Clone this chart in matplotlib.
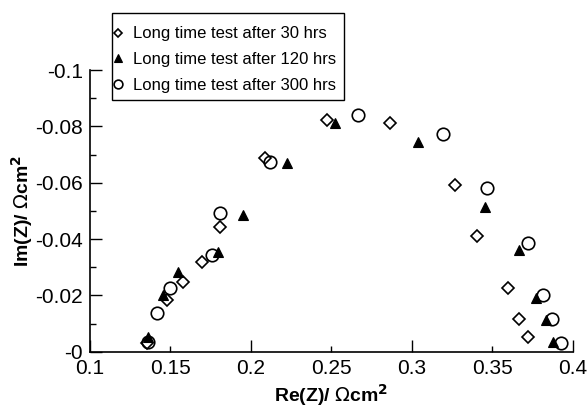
import numpy as np
import matplotlib as mpl
mpl.use('Agg')
import matplotlib.pyplot as plt
from matplotlib.ticker import MultipleLocator, FixedLocator
from matplotlib.patches import Rectangle

plt.rcParams['font.family'] = ['Liberation Sans', 'DejaVu Sans']

# Nyquist data: Re(Z), Im(Z) in ohm cm2
re_30 = [0.1354, 0.1478, 0.1578, 0.1696, 0.1807, 0.2087, 0.2472, 0.2863,
         0.3267, 0.3404, 0.3596, 0.3665, 0.3720]
im_30 = [-0.0032, -0.0184, -0.0248, -0.0319, -0.0442, -0.0687, -0.0821, -0.0811,
         -0.0591, -0.0411, -0.0227, -0.0117, -0.0053]

re_120 = [0.1360, 0.1453, 0.1547, 0.1795, 0.1950, 0.2224, 0.2522, 0.3037,
          0.3453, 0.3665, 0.3770, 0.3832, 0.3876]
im_120 = [-0.0053, -0.0202, -0.0283, -0.0354, -0.0485, -0.0669, -0.0811, -0.0743,
          -0.0513, -0.0361, -0.0191, -0.0113, -0.0035]

re_300 = [0.1360, 0.1416, 0.1497, 0.1758, 0.1807, 0.2118, 0.2668, 0.3193,
          0.3466, 0.3720, 0.3814, 0.3870, 0.3925]
im_300 = [-0.0035, -0.0138, -0.0227, -0.0343, -0.0492, -0.0673, -0.0842, -0.0772,
          -0.0581, -0.0386, -0.0202, -0.0117, -0.0032]

labels = ['Long time test after 30 hrs', 'Long time test after 120 hrs',
          'Long time test after 300 hrs']

ytick_vals = [0, -0.02, -0.04, -0.06, -0.08, -0.1]
ytick_labels = ['-0', '-0.02', '-0.04', '-0.06', '-0.08', '-0.1']

fig = plt.figure(figsize=(5.87, 4.12), dpi=100)
ax = fig.add_axes([0.153, 0.146, 0.823, 0.684])

ax.plot(re_30, im_30, 'D', ms=6.5, mfc='white', mec='black', mew=1.2,
        linestyle='none', label=labels[0])
ax.plot(re_120, im_120, '^', ms=7.5, mfc='black', mec='black', mew=0.8,
        linestyle='none', label=labels[1])
ax.plot(re_300, im_300, 'o', ms=9, mfc='none', mec='black', mew=1.2,
        linestyle='none', label=labels[2])

ax.set_xlim(0.1, 0.4)
ax.set_ylim(0, -0.1)

ax.xaxis.set_major_locator(FixedLocator([0.1, 0.2, 0.3, 0.4]))
ax.xaxis.set_minor_locator(FixedLocator([0.15, 0.25, 0.35]))
ax.set_xticklabels(['0.1', '0.2', '0.3', '0.4'])
ax.set_xticklabels(['0.15', '0.25', '0.35'], minor=True)

ax.set_yticks(ytick_vals)
ax.set_yticklabels(ytick_labels)
ax.yaxis.set_minor_locator(MultipleLocator(0.01))

ax.tick_params(which='major', direction='in', length=8.5, width=1,
               labelsize=15)
ax.tick_params(which='minor', direction='in', length=4, width=1,
               labelsize=15)
ax.tick_params(axis='y', which='both', pad=5)
ax.tick_params(axis='x', which='both', pad=5)
ax.tick_params(top=False, right=False)

ax.spines['top'].set_visible(False)
ax.spines['right'].set_visible(False)
ax.spines['left'].set_linewidth(1.2)
ax.spines['bottom'].set_linewidth(1.2)

ax.set_xlabel('Re(Z)/ $\\Omega$cm$^\\mathbf{2}$', fontsize=14,
              fontweight='bold', labelpad=3)
ax.set_ylabel('Im(Z)/ $\\Omega$cm$^\\mathbf{2}$', fontsize=14,
              fontweight='bold', labelpad=0)

# legend box drawn separately so its padding can differ in x and y
box = Rectangle((0.0455, 0.894), 0.481, 0.308, transform=ax.transAxes,
                facecolor='white', edgecolor='black', linewidth=1,
                clip_on=False, zorder=4)
ax.add_patch(box)
leg = ax.legend(loc='center left', bbox_to_anchor=(0.0476, 1.037),
                borderaxespad=0, borderpad=0, fontsize=12, markerscale=0.7,
                handlelength=0.6, handletextpad=0.6, labelspacing=0.64,
                frameon=False)
leg.set_zorder(5)

fig.savefig('out.png', dpi=100)
